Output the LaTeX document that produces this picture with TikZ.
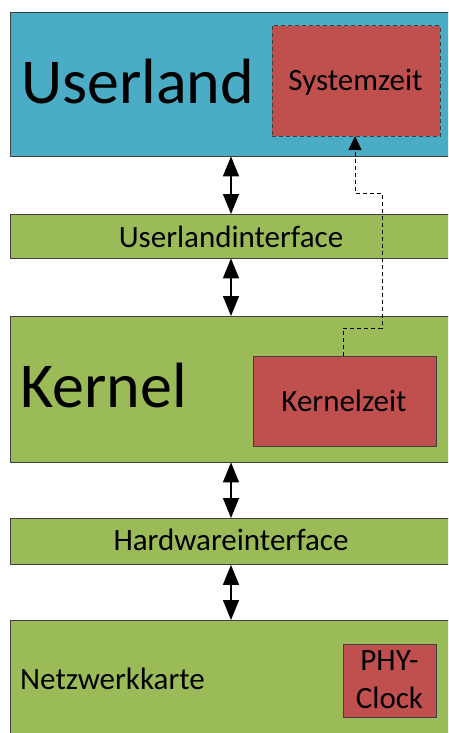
\documentclass[tikz,border=0pt]{standalone}
\usepackage{fontspec}
\setmainfont{Carlito}
\usetikzlibrary{arrows.meta}

\definecolor{userblue}{HTML}{4BACC6}
\definecolor{layergreen}{HTML}{9BBB59}
\definecolor{clockred}{HTML}{C0504D}
\definecolor{edgegray}{HTML}{404040}

\tikzset{
  layerbox/.style={rectangle, draw=edgegray, line width=0.9pt, inner sep=0pt, anchor=north west},
  bigtext/.style={font=\fontsize{64}{64}\selectfont, inner sep=0pt},
  smalltext/.style={font=\fontsize{31}{37.5}\selectfont, inner sep=0pt},
  linkarrow/.style={line width=1.4pt, {Triangle[width=16pt,length=20pt]}-{Triangle[width=16pt,length=20pt]}},
  synclink/.style={line width=1pt, dash pattern=on 4pt off 3pt, -{Triangle[width=13pt,length=14pt]}}
}

\begin{document}
\begin{tikzpicture}[x=1pt, y=-1pt]
  \useasboundingbox (0,0) rectangle (448,733);
  \clip (0,0) rectangle (448,733);

  % layers of the stack
  \node[layerbox, fill=userblue, minimum width=480pt, minimum height=143.5pt] (userland) at (9.5,12) {};
  \node[layerbox, fill=layergreen, minimum width=480pt, minimum height=43.5pt] (uif) at (9.5,214) {};
  \node[layerbox, fill=layergreen, minimum width=480pt, minimum height=145.5pt] (kernel) at (9.5,316) {};
  \node[layerbox, fill=layergreen, minimum width=480pt, minimum height=46pt] (hwif) at (9.5,518) {};
  \node[layerbox, fill=layergreen, minimum width=480pt, minimum height=140pt] (nic) at (9.5,620) {};

  % clocks inside the layers
  \node[layerbox, fill=clockred, dash pattern=on 4pt off 3pt, minimum width=168.5pt, minimum height=110.5pt] (systime) at (271.5,25.5) {};
  \node[layerbox, fill=clockred, minimum width=182.5pt, minimum height=90pt] (kerntime) at (253,355.7) {};
  \node[layerbox, fill=clockred, minimum width=92.5pt, minimum height=72.5pt] (phyclock) at (343,644) {};

  % labels
  \node[bigtext, anchor=base west] (userlandtxt) at (21,103) {Userland};
  \node[bigtext, anchor=base west] (kerneltxt) at (20,407.5) {Kernel};
  \node[smalltext, anchor=base] (systimetxt) at (355.5,91) {Systemzeit};
  \node[smalltext, anchor=base] (kerntimetxt) at (344,411) {Kernelzeit};
  \node[smalltext, anchor=base] (uiftxt) at (231,247) {Userlandinterface};
  \node[smalltext, anchor=base] (hwiftxt) at (231,550.5) {Hardwareinterface};
  \node[smalltext, anchor=base west] (nictxt) at (20,689) {Netzwerkkarte};
  \node[smalltext, anchor=base, align=center] (phytxt) at (389.5,708) {PHY-\\Clock};

  % links between neighbouring layers
  \coordinate (ax) at (231,0);
  \draw[linkarrow] (userland.south -| ax) -- (uif.north -| ax);
  \draw[linkarrow] (uif.south -| ax) -- (kernel.north -| ax);
  \draw[linkarrow] (kernel.south -| ax) -- (hwif.north -| ax);
  \draw[linkarrow] (hwif.south -| ax) -- (nic.north -| ax);

  % kernel time feeds the system time
  \coordinate (k0) at (343,355.7);
  \coordinate (s0) at (355,136);
  \draw[synclink] (k0) -- (343,328) -- (382,328) -- (382,193) -- (355,193) -- (s0);
\end{tikzpicture}
\end{document}
